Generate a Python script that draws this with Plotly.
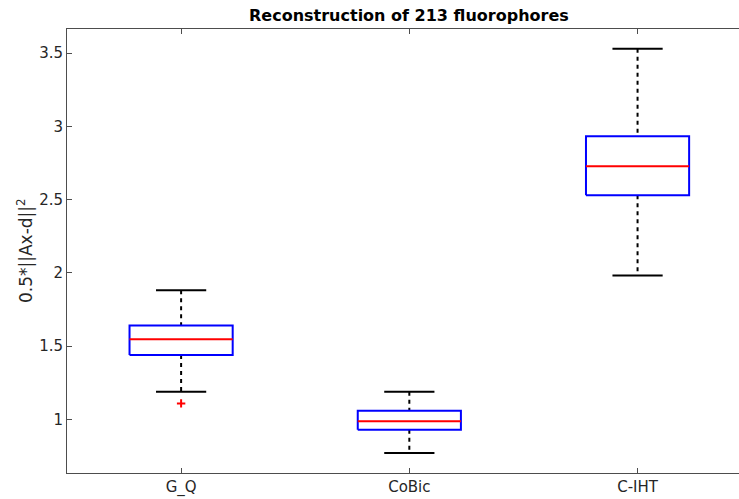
import plotly.graph_objects as go

# Summary statistics for each method
methods = ["G_Q", "CoBic", "C-IHT"]
lower_whisker = [1.188, 0.770, 1.982]
q1 = [1.440, 0.929, 2.530]
median = [1.547, 0.988, 2.727]
q3 = [1.641, 1.059, 2.932]
upper_whisker = [1.881, 1.188, 3.529]
outlier_pos = [1]
outlier_val = [1.109]

box_half = 0.226
cap_half = 0.11
font_family = "DejaVu Sans"
text_color = "#262626"

fig = go.Figure()

for i, name in enumerate(methods):
    x = i + 1
    # dashed whiskers
    fig.add_trace(go.Scatter(
        x=[x, x, None, x, x],
        y=[upper_whisker[i], q3[i], None, q1[i], lower_whisker[i]],
        mode="lines", line=dict(color="black", width=2, dash="4px,4px"),
        hoverinfo="skip", showlegend=False))
    # whisker caps
    fig.add_trace(go.Scatter(
        x=[x - cap_half, x + cap_half, None, x - cap_half, x + cap_half],
        y=[upper_whisker[i], upper_whisker[i], None, lower_whisker[i], lower_whisker[i]],
        mode="lines", line=dict(color="black", width=2),
        hoverinfo="skip", showlegend=False))
    # box
    fig.add_trace(go.Scatter(
        x=[x - box_half, x + box_half, x + box_half, x - box_half, x - box_half],
        y=[q1[i], q1[i], q3[i], q3[i], q1[i]],
        mode="lines", line=dict(color="#0000ff", width=2),
        hoverinfo="skip", showlegend=False))
    # median
    fig.add_trace(go.Scatter(
        x=[x - box_half, x + box_half], y=[median[i], median[i]],
        mode="lines", line=dict(color="#ff0000", width=2),
        hoverinfo="skip", showlegend=False))

# outliers
fig.add_trace(go.Scatter(
    x=outlier_pos, y=outlier_val, mode="markers",
    marker=dict(symbol="cross-thin", size=6, line=dict(color="#ff0000", width=2)),
    hoverinfo="skip", showlegend=False))

axis_common = dict(
    showgrid=False, zeroline=False, showline=True, linecolor="#4d4d4d",
    linewidth=1, ticks="inside", ticklen=5, tickcolor="#4d4d4d",
    tickfont=dict(family=font_family, size=15, color=text_color),
)

fig.update_layout(
    width=739, height=499,
    margin=dict(l=67, r=0, t=29, b=26),
    plot_bgcolor="white", paper_bgcolor="white",
    xaxis=dict(range=[0.5, 3.4445], tickvals=[1, 2, 3], ticktext=methods,
               mirror="ticks", **axis_common),
    yaxis=dict(range=[0.634, 3.664], tickvals=[1, 1.5, 2, 2.5, 3, 3.5],
               ticktext=["1", "1.5", "2", "2.5", "3", "3.5"], mirror=False,
               **axis_common),
    annotations=[
        dict(text="<b>Reconstruction of 213 fluorophores</b>", x=2, xref="x",
             y=1, yref="paper", yanchor="bottom", yshift=2, showarrow=False,
             font=dict(family=font_family, size=16, color="black")),
        dict(text="0.5*||Ax-d||<sup>2</sup>", x=0, xref="paper", xanchor="center",
             xshift=-42, y=0.5, yref="paper", yanchor="middle", textangle=-90,
             showarrow=False,
             font=dict(family=font_family, size=17, color=text_color)),
    ],
)

fig.write_html("out.html")
